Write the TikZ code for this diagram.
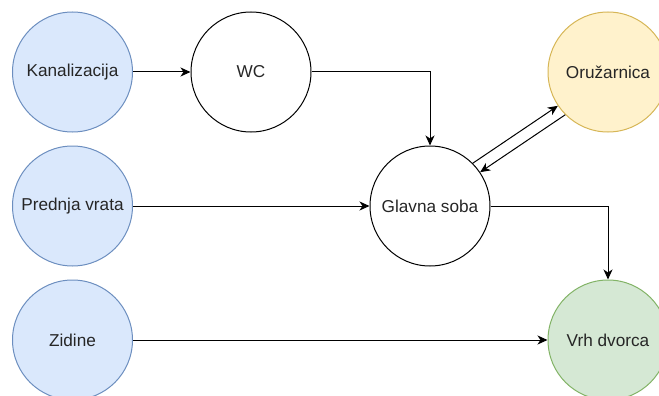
\documentclass[tikz,border=0pt]{standalone}
\usepackage{fontspec}
\setmainfont{Liberation Sans}
\usetikzlibrary{arrows.meta}

\begin{document}
\begin{tikzpicture}[x=1pt, y=1pt,
		room/.style = {circle, draw, line width=1pt, minimum size=120pt, inner sep=0pt, font=\fontsize{17.2}{20}\selectfont, text=black!85},
		bluebox/.style = {room, fill={rgb,255:red,218;green,232;blue,252}, draw={rgb,255:red,108;green,142;blue,191}},
		yellowbox/.style = {room, fill={rgb,255:red,255;green,242;blue,204}, draw={rgb,255:red,214;green,182;blue,86}},
		greenbox/.style = {room, fill={rgb,255:red,213;green,232;blue,212}, draw={rgb,255:red,130;green,179;blue,102}},
		link/.style = {line width=1pt, -{Stealth[length=10pt, width=9pt, inset=3pt]}}]
		\clip (0, 0) rectangle (659, -396);
		\node[bluebox] (kanal) at (72.5, -72) {Kanalizacija};
		\node[room] (wc) at (251, -72) {WC};
		\node[yellowbox] (oruz) at (608, -72) {Oružarnica};
		\node[bluebox] (vrata) at (72.5, -206) {Prednja vrata};
		\node[room] (glavna) at (430, -206) {Glavna soba};
		\node[bluebox] (zidine) at (72.5, -340) {Zidine};
		\node[greenbox] (vrh) at (608, -340) {Vrh dvorca};
		\draw[link] (kanal) -- (wc);
		\draw[link] (wc.east) -| (glavna.north);
		\draw[link] (vrata) -- (glavna);
		\draw[link] (glavna.45) -- (oruz.214);
		\draw[link] (oruz.225) -- (glavna.34);
		\draw[link] (glavna.east) -| (vrh.north);
		\draw[link] (zidine) -- (vrh);
	\end{tikzpicture}
\end{document}
